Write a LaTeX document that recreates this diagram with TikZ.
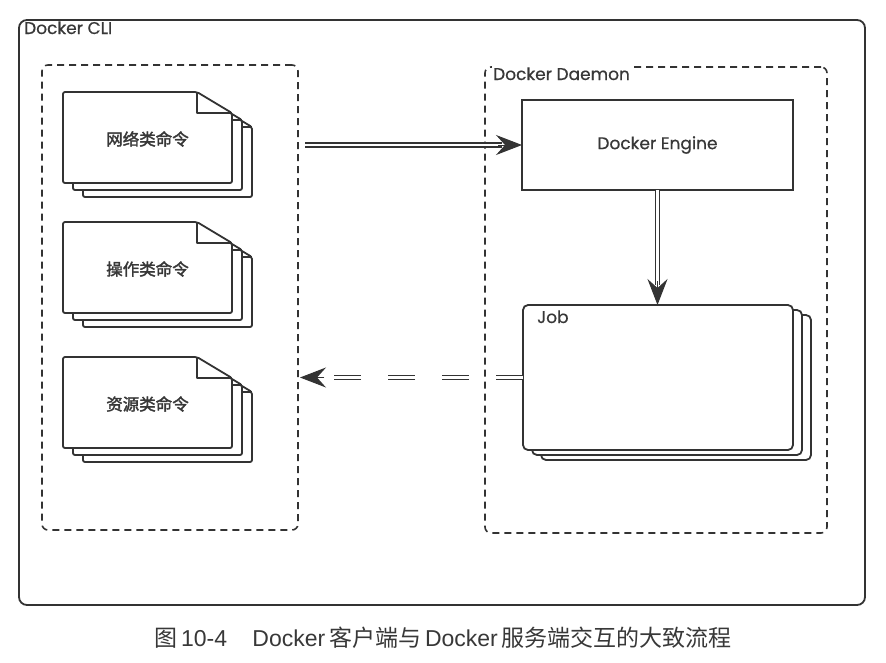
\documentclass[tikz,border=0pt]{standalone}
\usepackage{fontspec}
\setmainfont{Liberation Sans}
\newfontfamily\cjk{Noto Sans CJK SC}
\newfontfamily\cjkbold[FakeBold=2]{Noto Sans CJK SC}
\newfontfamily\geo[FakeBold=0.5]{Poppins}
\usetikzlibrary{arrows.meta,calc}
\definecolor{lc}{HTML}{333333}
\definecolor{tc}{HTML}{383838}
\tikzset{
  ln/.style={draw=lc, line width=1.8pt},
  dsh/.style={draw=lc, line width=1.6pt, dash pattern=on 7pt off 5pt},
  dbl/.style={draw=lc, line width=1.5pt, double=white, double distance=2.6pt},
  tipline/.style={draw=lc, fill=lc, line width=1pt, -{Stealth[length=26pt,width=20pt,inset=9pt]}},
  box/.style={ln, fill=white, inner sep=0pt, outer sep=0pt},
  geolbl/.style={text=tc, font=\geo\fontsize{17}{20}\selectfont, inner sep=0pt},
  doclbl/.style={text=tc, font=\cjkbold\fontsize{16.5}{20}\selectfont, inner sep=0pt},
  pics/docpage/.style={code={
    \draw[ln, fill=white, rounded corners=2pt, line join=round]
      (0,0) -- (134,0) -- (169,21) -- (169,91) -- (0,91) -- cycle;
    \draw[ln, line join=round] (134,0) -- (134,21) -- (169,21);
  }}
}
\begin{document}
\begin{tikzpicture}[x=1pt, y=-1pt]
\fill[white] (0,0) rectangle (886,662);
\useasboundingbox (0,0) rectangle (886,662);

% outer frame
\node[box, rounded corners=8pt, minimum width=846pt, minimum height=585pt] (outer) at (442,312.5) {};
\node[geolbl, anchor=base west] (clilbl) at (24,34) {Docker CLI};

% dashed containers
\node[dsh, inner sep=0pt, outer sep=0pt, rounded corners=6pt, minimum width=256pt, minimum height=465pt] (cli) at (170,297.5) {};
\node[dsh, inner sep=0pt, outer sep=0pt, rounded corners=6pt, minimum width=342pt, minimum height=466pt] (daemon) at (656,300) {};
\node[geolbl, anchor=base west, fill=white, inner xsep=1pt, inner ysep=1pt] (daemonlbl) at (492,80) {Docker Daemon};

% document stacks
\foreach \yy/\txt/\nm in {92/网络类命令/d1, 222/操作类命令/d2, 357/资源类命令/d3}{
  \pic at (83,\yy+14) {docpage};
  \pic at (73,\yy+7) {docpage};
  \pic at (63,\yy) {docpage};
  \node[doclbl] (\nm) at (147.5,\yy+47) {\txt};
}

% Docker Engine
\node[box, minimum width=271pt, minimum height=90pt] (engine) at (657.5,145) {};
\node[geolbl] (enginelbl) at (engine) {Docker Engine};

% Job stack
\draw[box, rounded corners=5pt] (541,315) rectangle (811,460);
\draw[box, rounded corners=5pt] (532,310) rectangle (802,455);
\node[box, rounded corners=5pt, minimum width=270pt, minimum height=145pt] (job) at (658,377.5) {};
\node[geolbl, anchor=base west] (joblbl) at (537,323) {Job};

% arrow CLI -> Engine
\coordinate (a1s) at ($(cli.east |- engine.west)+(7pt,0)$);
\draw[dbl] (a1s) -- ($(engine.west)+(-20pt,0)$);
\draw[tipline] ($(engine.west)+(-24pt,0)$) -- (engine.west);

% arrow Engine -> Job
\coordinate (a2e) at (engine.south |- job.north);
\draw[dbl] (engine.south) -- ($(a2e)+(0,20pt)$);
\draw[tipline] ($(a2e)+(0,24pt)$) -- (a2e);

% dashed return arrow Job -> CLI
\coordinate (a3e) at ($(cli.east |- job.west)+(2pt,0)$);
\draw[dbl, dash pattern=on 27pt off 27pt] (job.west) -- ($(a3e)+(30pt,0)$);
\draw[tipline] ($(a3e)+(24pt,0)$) -- (a3e);

% caption
\node[text=tc, inner sep=0pt, font=\fontsize{23}{27}\selectfont] (caption) at (443,638)
  {{\cjk 图}\,10-4\hspace{1.1em}Docker\,{\cjk 客户端与}\,Docker\,{\cjk 服务端交互的大致流程}};
\end{tikzpicture}
\end{document}
